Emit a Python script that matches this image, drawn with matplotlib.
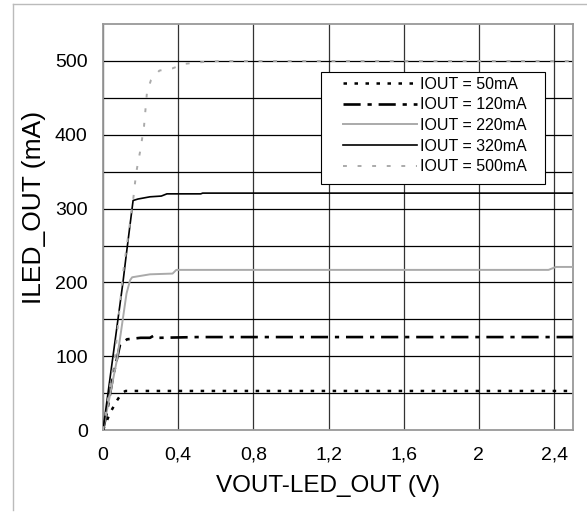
import numpy as np
import matplotlib
matplotlib.use("Agg")
import matplotlib.pyplot as plt
from matplotlib.patches import Rectangle
from matplotlib.lines import Line2D

plt.rcParams['font.family'] = ['Liberation Sans', 'DejaVu Sans']

# Output current vs headroom voltage, one curve per IOUT setting
x_50 = [0, 0.037, 0.074, 0.10, 0.12, 0.5, 1.0, 1.5, 2.0, 2.5]
y_50 = [0, 23, 40, 50, 53, 53, 53, 53, 53, 53]

x_120 = [0, 0.02, 0.053, 0.09, 0.128, 0.2, 0.25, 0.27, 0.30, 0.5, 1.0, 2.0, 2.5]
y_120 = [0, 23, 72, 115, 123, 125, 125, 128, 125, 126, 126, 126, 126]

x_220 = [0, 0.074, 0.125, 0.144, 0.155, 0.25, 0.37, 0.39, 1.0, 2.0, 2.37, 2.41, 2.5]
y_220 = [0, 95, 185, 203, 207, 211, 212, 217, 217, 217, 217, 221, 221]

x_320 = [0, 0.106, 0.122, 0.16, 0.186, 0.25, 0.31, 0.34, 0.52, 0.53, 1.0, 2.0, 2.5]
y_320 = [0, 200, 234, 311, 313, 316, 317, 320, 320, 321, 321, 321, 321]

x_500 = [0, 0.064, 0.106, 0.16, 0.176, 0.197, 0.218, 0.234, 0.255, 0.30, 0.37,
         0.43, 0.5, 0.62, 1.0, 2.0, 2.5]
y_500 = [0, 101, 212, 311, 348, 377, 411, 458, 474, 487, 490,
         496, 498, 500, 500, 500, 500]

labels = ['IOUT = 50mA', 'IOUT = 120mA', 'IOUT = 220mA', 'IOUT = 320mA', 'IOUT = 500mA']

x_ticks = [0, 0.4, 0.8, 1.2, 1.6, 2.0, 2.4]
x_tick_labels = ['0', '0,4', '0,8', '1,2', '1,6', '2', '2,4']
y_ticks = [0, 100, 200, 300, 400, 500]

fig = plt.figure(figsize=(5.87, 5.12), dpi=100)
ax = fig.add_axes([0.1755, 0.160, 0.8005, 0.793])

# grid: verticals every 0.4 V, horizontals every 50 mA
for xv in x_ticks:
    ax.axvline(xv, color='#333333', lw=0.9, zorder=1)
for yv in range(50, 550, 50):
    ax.axhline(yv, color='#000000', lw=0.9, zorder=1)

gray = '#aaaaaa'
l1, = ax.plot(x_50, y_50, color='black', lw=1.8, ls=(0, (1.4, 3.0)), zorder=5)
l2, = ax.plot(x_120, y_120, color='black', lw=1.9, ls=(0, (6.5, 2.6, 1.6, 2.6)), zorder=5)
l3, = ax.plot(x_220, y_220, color=gray, lw=1.4, zorder=5)
l4, = ax.plot(x_320, y_320, color='black', lw=1.2, zorder=5)
l5, = ax.plot(x_500, y_500, color=gray, lw=1.4, ls=(0, (2, 5.5)), zorder=5)

ax.set_xlim(0, 2.5)
ax.set_ylim(0, 550)
ax.set_xticks(x_ticks)
ax.set_xticklabels(x_tick_labels)
ax.set_yticks(y_ticks)
ax.tick_params(axis='both', length=0, labelsize=14)
ax.tick_params(axis='x', pad=12)
ax.tick_params(axis='y', pad=11)
for s in ax.spines.values():
    s.set_color('#999999')
    s.set_linewidth(1.3)

ax.set_xlabel('VOUT-LED_OUT (V)', fontsize=17.5)
ax.set_ylabel('ILED_OUT (mA)', fontsize=19)
ax.xaxis.set_label_coords(0.479, -0.110)
ax.yaxis.set_label_coords(-0.122, 0.549)

# legend box drawn by hand so the padding matches
ax.add_patch(Rectangle((0.464, 0.606), 0.476, 0.276, transform=ax.transAxes,
                       facecolor='white', edgecolor='black', lw=0.8, zorder=3))
leg = ax.legend([l1, l2, l3, l4, l5], labels, loc='upper left',
                bbox_to_anchor=(0.511, 0.870), frameon=False, fontsize=11.5,
                handlelength=4.6, handletextpad=0.2, labelspacing=0.35,
                borderpad=0, borderaxespad=0)
leg.set_zorder(4)

# thin page frame
fig.add_artist(Line2D([13 / 587, 13 / 587], [2 / 512, 508 / 512], color='#bbbbbb', lw=1))
fig.add_artist(Line2D([13 / 587, 1], [508 / 512, 508 / 512], color='#bbbbbb', lw=1))

fig.savefig('out.png', dpi=100)
